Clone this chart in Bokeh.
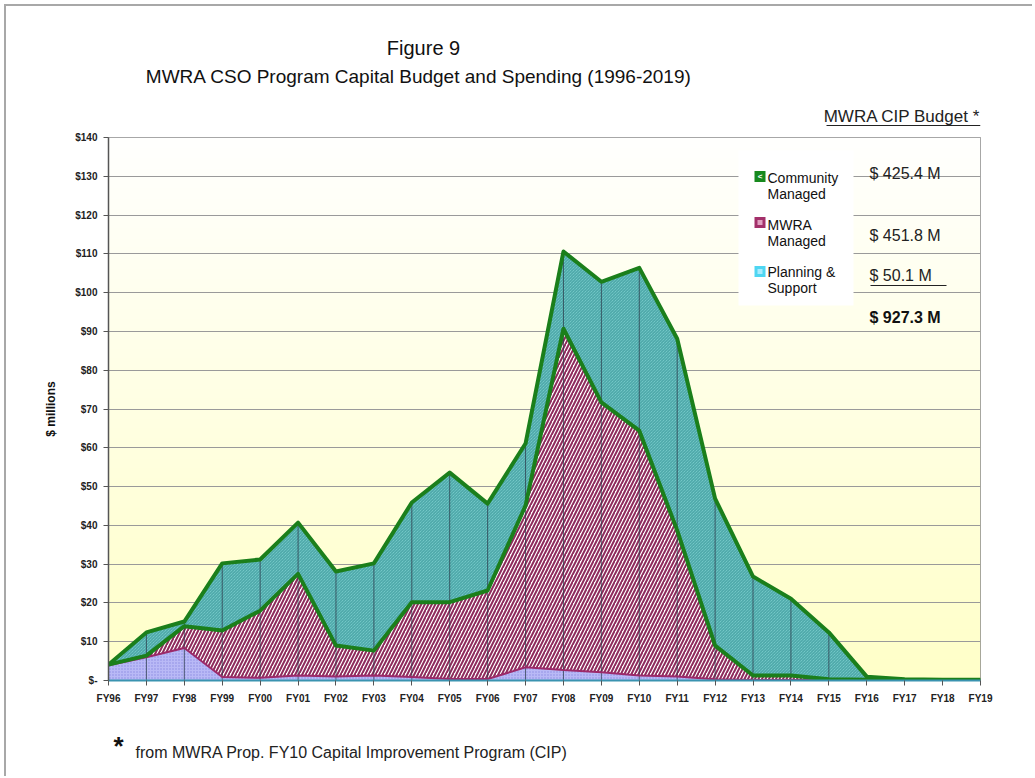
import numpy as np
from bokeh.plotting import figure
from bokeh.layouts import column
from bokeh.models import FixedTicker, Label, BoxAnnotation, Arrow, Range1d, ColumnDataSource
from bokeh.embed import file_html
from bokeh.resources import INLINE

# ---------------- data ($ millions) ----------------
years = ["FY96", "FY97", "FY98", "FY99", "FY00", "FY01", "FY02", "FY03", "FY04", "FY05",
         "FY06", "FY07", "FY08", "FY09", "FY10", "FY11", "FY12", "FY13", "FY14", "FY15",
         "FY16", "FY17", "FY18", "FY19"]
planning = [3.9, 6.0, 8.4, 0.9, 0.7, 1.3, 1.0, 1.3, 0.9, 0.4, 0.4, 3.4, 2.7, 2.1, 1.3, 1.0,
            0.3, 0.1, 0.1, 0.1, 0.0, 0.0, 0.0, 0.0]
mwra = [0.2, 0.4, 5.6, 12.0, 17.3, 26.2, 8.0, 6.4, 19.3, 19.8, 22.8, 41.7, 88.0, 69.6, 63.1,
        37.7, 8.7, 1.2, 1.2, 0.2, 0.2, 0.1, 0.1, 0.1]
community = [0.0, 6.0, 1.2, 17.3, 13.2, 13.2, 19.1, 22.5, 25.7, 33.4, 22.4, 16.0, 19.9, 31.1,
             42.0, 49.4, 37.9, 25.5, 19.8, 12.1, 0.8, 0.2, 0.1, 0.1]
y_ticks = list(range(0, 141, 10))
budget_names = ["Community\nManaged", "MWRA\nManaged", "Planning &\nSupport"]
budget_values = ["$ 425.4 M", "$ 451.8 M", "$  50.1 M"]
budget_total = "$ 927.3 M"

# ---------------- layout (page px) ----------------
MARGIN, BORDER = 4, 2
OFF = MARGIN + BORDER
W = 1026
PL, PR, PT, PB = 108, 980, 137, 680   # plot area on the page
TOPPAD = 10                            # room above the plot area inside main figure
HH = PT - TOPPAD - OFF                 # header height
HM = PB - PT + TOPPAD + 32             # main figure height
HF = 778 - OFF - HH - HM - 2           # footer height
XMAX = len(years) - 1
YMAX = y_ticks[-1]
PPU = (PB - PT) / YMAX
FONT = "Liberation Sans"
FL, FR = PL - OFF, PR - OFF            # frame left/right in canvas px


def dx(px):
    return (px - PL) / (PR - PL) * XMAX


def dy(py):
    return (PB - py) / PPU


def label(fig, X, Y, text, size, bold=False, align="left", color="#111111"):
    fig.add_layout(Label(x=X, y=Y, text=text, text_font=FONT,
                         text_font_size=f"{size}px", text_font_style="bold" if bold else "normal",
                         text_align=align, text_baseline="middle", text_color=color))


def hline(fig, X0, X1, Y, color="#222222", width=1.2):
    fig.add_layout(Arrow(x_start=X0, y_start=Y, x_end=X1, y_end=Y,
                         end=None, start=None, line_color=color, line_width=width))


def blank_fig(h):
    g = figure(width=W, height=h, output_backend="svg", toolbar_location=None,
               x_range=Range1d(0, XMAX), y_range=Range1d(h, 0),
               x_axis_location=None, y_axis_location=None,
               min_border_left=FL, min_border_right=W - FR,
               min_border_top=0, min_border_bottom=0)
    g.title.visible = False
    g.grid.visible = False
    g.outline_line_color = None
    g.background_fill_color = "white"
    g.border_fill_color = "white"
    return g


# ---------------- header ----------------
hd = blank_fig(HH)
label(hd, dx(423), 47 - OFF, "Figure 9", 20, align="center")
label(hd, dx(421), 76 - OFF, "MWRA CSO Program Capital Budget and  Spending (1996-2019)", 19,
      align="center")
label(hd, dx(980), 116 - OFF, "MWRA CIP Budget *", 17, align="right", color="#222222")
hline(hd, dx(826), dx(980), 125 - OFF)

# ---------------- main chart ----------------
x = np.arange(len(years))
b1 = np.array(planning)
b2 = b1 + np.array(mwra)
b3 = b2 + np.array(community)
src = ColumnDataSource(dict(x=x, zero=np.zeros(len(x)), b1=b1, b2=b2, b3=b3))

p = figure(width=W, height=HM, output_backend="svg", toolbar_location=None,
           x_range=Range1d(0, XMAX), y_range=Range1d(0, YMAX),
           min_border_left=FL, min_border_right=W - FR,
           min_border_top=TOPPAD, min_border_bottom=HM - (PB - PT) - TOPPAD)
p.title.visible = False
p.background_fill_color = "white"
p.border_fill_color = "white"
p.outline_line_color = "#8a8a8a"

# gradient background (white top -> pale yellow bottom)
n = 256
img = np.empty((n, 1), dtype=np.uint32)
view = img.view(dtype=np.uint8).reshape((n, 1, 4))
t = np.linspace(0, 1, n)
view[:, 0, 0] = 255
view[:, 0, 1] = 255
view[:, 0, 2] = (200 + 54 * t).astype(np.uint8)
view[:, 0, 3] = 255
p.image_rgba(image=[img], x=0, y=0, dw=XMAX, dh=YMAX, level="image")

p.xgrid.visible = False
p.ygrid.ticker = FixedTicker(ticks=y_ticks)
p.ygrid.grid_line_color = "#9a9a9a"
p.ygrid.grid_line_width = 1

# stacked areas
p.varea(x="x", y1="zero", y2="b1", source=src, fill_color="#b9b9f6",
        hatch_pattern="dot", hatch_color="#8c8ce0", hatch_scale=3, hatch_weight=1)
p.varea(x="x", y1="b1", y2="b2", source=src, fill_color="#ffffff",
        hatch_pattern="right_diagonal_line", hatch_color="#8e2a5c", hatch_scale=7, hatch_weight=2)
p.varea(x="x", y1="b2", y2="b3", source=src, fill_color="#84d4d4",
        hatch_pattern="left_diagonal_line", hatch_color="#2f8f90", hatch_scale=3, hatch_weight=0.8)

# drop lines
p.segment(x0="x", y0="zero", x1="x", y1="b3", source=src, line_color="#2b3b4b",
          line_alpha=0.75, line_width=1)

# boundaries
p.line(x="x", y="b1", source=src, line_color="#9c2a6a", line_width=2)
p.line(x="x", y="b2", source=src, line_color="#1b7f1b", line_width=4, line_join="round")
p.line(x="x", y="b3", source=src, line_color="#1b7f1b", line_width=4, line_join="round")

# axes
p.yaxis.ticker = FixedTicker(ticks=y_ticks)
p.yaxis.major_label_overrides = {v: ("$-" if v == 0 else f"${v}") for v in y_ticks}
p.yaxis.axis_label = "$ millions"
p.yaxis.axis_label_text_font = FONT
p.yaxis.axis_label_text_font_style = "bold"
p.yaxis.axis_label_text_font_size = "12px"
p.yaxis.axis_label_text_color = "#111111"
p.yaxis.axis_label_standoff = 14
p.xaxis.ticker = FixedTicker(ticks=list(x))
p.xaxis.major_label_overrides = {int(i): years[i] for i in x}
for ax in (p.xaxis, p.yaxis):
    ax.major_label_text_font = FONT
    ax.major_label_text_font_style = "bold"
    ax.major_label_text_font_size = "10px"
    ax.major_label_text_color = "#222222"
    ax.major_tick_in = 0
    ax.major_tick_out = 5
    ax.minor_tick_line_color = None
    ax.major_tick_line_color = "#555555"
p.yaxis.axis_line_color = "#555555"
p.yaxis.axis_line_width = 1.5
p.yaxis.major_label_standoff = 6
p.xaxis.axis_line_color = "#3a93b0"
p.xaxis.axis_line_width = 2
p.xaxis.major_label_standoff = 7

# legend box
p.add_layout(BoxAnnotation(left=dx(738), right=dx(853), top=dy(150), bottom=dy(305),
                           fill_color="white", fill_alpha=1, line_alpha=0))
sq_colors = ["#17891d", "#a3306a", "#4fd6f2"]
sq_y = [176, 222, 271]
text_y = [(177, 193), (224, 240), (271, 287)]
for c, yy, (t1, t2), name in zip(sq_colors, sq_y, text_y, budget_names):
    p.add_layout(BoxAnnotation(left=dx(754), right=dx(765), top=dy(yy - 5.5), bottom=dy(yy + 5.5),
                               fill_color=c, fill_alpha=1, line_alpha=0))
    l1, l2 = name.split("\n")
    label(p, dx(767), dy(t1), l1, 14)
    label(p, dx(767), dy(t2), l2, 14)
label(p, dx(759.5), dy(176), "<", 8, bold=True, align="center", color="white")
p.add_layout(BoxAnnotation(left=dx(757), right=dx(762), top=dy(219.5), bottom=dy(224.5),
                           fill_color="#e0a0c0", fill_alpha=1, line_alpha=0))
p.add_layout(BoxAnnotation(left=dx(757), right=dx(762), top=dy(268.5), bottom=dy(273.5),
                           fill_color="#a8ecff", fill_alpha=1, line_alpha=0))

# budget values
for vy, v in zip([173, 235, 275], budget_values):
    label(p, dx(869), dy(vy), v, 16, color="#222222")
hline(p, dx(870), dx(946), dy(285))
label(p, dx(869), dy(317), budget_total, 16, bold=True, color="#111111")

# ---------------- footer ----------------
ft = blank_fig(HF)
FOOT_TOP = OFF + HH + HM
label(ft, dx(118), 745 - FOOT_TOP, "*", 26, bold=True, align="center")
label(ft, dx(135), 752 - FOOT_TOP, "from MWRA Prop. FY10 Capital Improvement Program (CIP)", 16,
      color="#222222")

page = column(hd, p, ft, spacing=0,
              styles={"border-top": f"{BORDER}px solid #a8a8a8",
                      "border-left": f"{BORDER}px solid #a8a8a8",
                      "margin-top": f"{MARGIN}px", "margin-left": f"{MARGIN}px"})

open("out.html", "w").write(file_html(page, INLINE))
